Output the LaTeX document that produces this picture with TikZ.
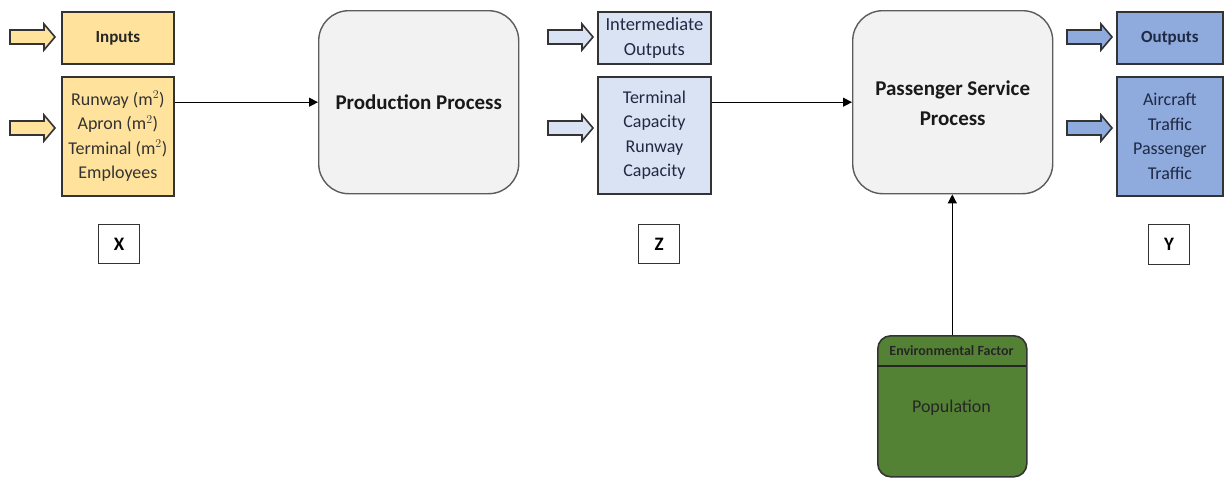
\documentclass[tikz,border=0pt]{standalone}
\usepackage{fontspec}
\setmainfont{Carlito}
\usetikzlibrary{arrows.meta}
\definecolor{inpfill}{HTML}{FFE29C}
\definecolor{midfill}{HTML}{DAE3F3}
\definecolor{outfill}{HTML}{8FAADC}
\definecolor{envfill}{HTML}{548235}
\definecolor{procfill}{HTML}{F2F2F2}
\definecolor{edge}{HTML}{333333}
\definecolor{navy}{HTML}{1F2A44}
\tikzset{
  box/.style={draw=edge, line width=1.8pt, inner sep=0pt, anchor=north west},
  proc/.style={draw=edge!80, line width=1.4pt, fill=procfill, rounded corners=30pt, inner sep=0pt, anchor=north west},
  lbl/.style={draw=edge, line width=1.2pt, fill=white, inner sep=0pt, anchor=north west, font=\bfseries\fontsize{19}{21}\selectfont},
  conn/.style={draw=black, line width=1.2pt, -{Triangle[length=9pt,width=9pt]}},
  blk/.style={draw=edge, line width=1.6pt},
}
\newcommand{\blockarr}[3]{% x, y(center), fill
  \draw[blk, fill=#3] (#1,#2-7) -- (#1+34,#2-7) -- (#1+34,#2-13) -- (#1+45,#2) -- (#1+34,#2+13) -- (#1+34,#2+7) -- (#1,#2+7) -- cycle;}
\begin{document}
\begin{tikzpicture}[x=1pt,y=-1pt]
\useasboundingbox (0,0) rectangle (1224,479);
% block arrows
\blockarr{10}{37}{inpfill}
\blockarr{10}{128}{inpfill}
\blockarr{548}{37}{midfill}
\blockarr{548}{128}{midfill}
\blockarr{1067}{37}{outfill}
\blockarr{1067}{128}{outfill}
% inputs
\node[box, fill=inpfill, minimum width=112pt, minimum height=52pt, font=\bfseries\fontsize{17}{20}\selectfont, text=black!85] (inp) at (61,11) {Inputs};
\node[box, fill=inpfill, minimum width=112pt, minimum height=119pt, align=center, font=\fontsize{18}{24.5}\selectfont, text=black!80] (inplist) at (61,76) {Runway (m$^2$)\\Apron (m$^2$)\\Terminal (m$^2$)\\Employees};
% production process
\node[proc, minimum width=200pt, minimum height=183pt] (prod) at (318,10) {};
\node[font=\bfseries\fontsize{21}{26}\selectfont, text=black!90] (prodtxt) at (prod.center) {Production Process};
% intermediate
\node[box, fill=midfill, minimum width=113pt, minimum height=52pt, align=center, font=\fontsize{18.5}{25}\selectfont, text=navy] (mid) at (597,11) {Intermediate\\Outputs};
\node[box, fill=midfill, minimum width=113pt, minimum height=117pt, align=center, font=\fontsize{18}{24.5}\selectfont, text=navy] (midlist) at (597,76) {Terminal\\Capacity\\Runway\\Capacity};
% passenger service
\node[proc, minimum width=200pt, minimum height=183pt] (pass) at (852,10) {};
\node[align=center, font=\bfseries\fontsize{21}{30}\selectfont, text=black!90] (passtxt) at ([yshift=-1pt]pass.center) {Passenger Service\\Process};
% outputs
\node[box, fill=outfill, minimum width=106pt, minimum height=52pt, font=\bfseries\fontsize{17}{20}\selectfont, text=navy] (out) at (1116,11) {Outputs};
\node[box, fill=outfill, minimum width=106pt, minimum height=119pt, align=center, font=\fontsize{18}{24.5}\selectfont, text=navy] (outlist) at (1116,76) {Aircraft\\Traffic\\Passenger\\Traffic};
% labels
\node[lbl, minimum width=41pt, minimum height=39pt] (lx) at (98,224) {X};
\node[lbl, minimum width=41pt, minimum height=39pt] (lz) at (638,224) {Z};
\node[lbl, minimum width=41pt, minimum height=40pt] (ly) at (1148,224) {Y};
% environmental factor
\node[draw=edge, line width=1.6pt, fill=envfill, rounded corners=13pt, inner sep=0pt, anchor=north west, minimum width=149pt, minimum height=141pt] (env) at (877,335) {};
\coordinate (hl) at (877,366);
\coordinate (hr) at (1026,366);
\draw[draw=black!85, line width=1.4pt] (hl) -- (hr);
\node[font=\fontsize{14}{16}\selectfont\bfseries, text=black!85] (envh) at (951.5,351) {Environmental Factor};
\node[font=\fontsize{18}{20}\selectfont, text=black!85] (pop) at (951.5,408) {Population};
% connectors
\draw[conn] (inplist.east |- prod.west) -- (prod.west);
\draw[conn] (midlist.east |- pass.west) -- (pass.west);
\draw[conn] (env.north) -- (env.north |- pass.south);
\end{tikzpicture}
\end{document}
